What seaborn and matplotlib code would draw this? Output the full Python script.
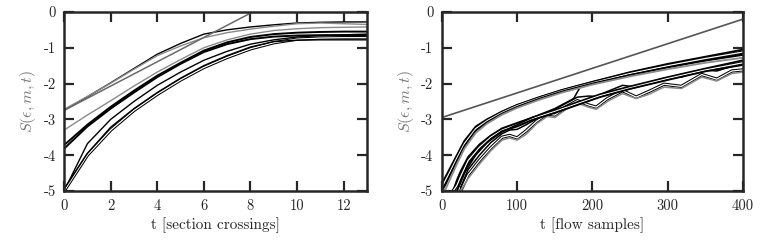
import numpy as np
import pandas as pd
import seaborn as sns
from matplotlib import pyplot as plt

# ---- left panel: section crossings ----
t_left = [0, 1, 2, 3, 4, 5, 6, 7, 8, 9, 10, 11, 12, 13]
left_curves = {
    'L1': [-2.75, -2.37, -1.98, -1.58, -1.18, -0.88, -0.62, -0.50, -0.42, -0.36, -0.31, -0.29, -0.28, -0.28],
    'L2': [-2.72, -2.36, -1.99, -1.60, -1.22, -0.95, -0.72, -0.58, -0.48, -0.40, -0.33, -0.31, -0.33, -0.35],
    'L3': [-3.30, -2.88, -2.48, -2.07, -1.68, -1.33, -1.00, -0.78, -0.62, -0.52, -0.47, -0.44, -0.43, -0.42],
    'L4': [-3.72, -3.15, -2.65, -2.20, -1.78, -1.42, -1.08, -0.85, -0.70, -0.62, -0.58, -0.56, -0.55, -0.55],
    'L5': [-3.82, -3.20, -2.70, -2.25, -1.82, -1.45, -1.12, -0.90, -0.76, -0.69, -0.66, -0.65, -0.65, -0.65],
    'L6': [-5.00, -3.68, -3.00, -2.50, -2.05, -1.68, -1.35, -1.10, -0.90, -0.78, -0.70, -0.66, -0.64, -0.62],
    'L7': [-5.00, -4.00, -3.30, -2.75, -2.30, -1.90, -1.55, -1.27, -1.03, -0.86, -0.76, -0.73, -0.72, -0.72],
    'L8': [-4.95, -3.95, -3.22, -2.70, -2.25, -1.85, -1.50, -1.22, -0.98, -0.83, -0.79, -0.78, -0.78, -0.78],
}
left_colors = {'L1': 'black', 'L2': '#8a8a8a', 'L3': '#8a8a8a', 'L4': 'black',
               'L5': 'black', 'L6': 'black', 'L7': 'white', 'L8': 'black'}
left_line_t = [0, 8.1]
left_line_s = [-2.75, 0.0]

# ---- right panel: flow samples ----
t_up = [0, 5, 10, 20, 30, 45, 60, 80, 100, 130, 160, 200, 250, 300, 350, 400]
up_curves = {
    'R1': [-4.80, -4.60, -4.40, -4.00, -3.60, -3.20, -3.00, -2.78, -2.60, -2.38, -2.18, -1.95, -1.68, -1.45, -1.25, -1.05],
    'R2': [-4.90, -4.70, -4.50, -4.08, -3.68, -3.26, -3.04, -2.81, -2.62, -2.40, -2.20, -1.98, -1.72, -1.50, -1.30, -1.12],
    'R3': [-5.00, -4.82, -4.60, -4.16, -3.75, -3.32, -3.08, -2.84, -2.65, -2.42, -2.22, -2.00, -1.76, -1.55, -1.36, -1.20],
    'R4': [-5.00, -4.95, -4.72, -4.25, -3.82, -3.38, -3.12, -2.87, -2.68, -2.45, -2.25, -2.03, -1.80, -1.60, -1.42, -1.28],
}
up_colors = {'R1': 'black', 'R2': 'white', 'R3': 'black', 'R4': '#8a8a8a'}

t_mid = [15, 20, 25, 35, 50, 65, 80, 100, 120, 150, 180, 210, 250, 300, 350, 400]
mid_curves = {
    'M1': [-5.00, -4.70, -4.45, -4.05, -3.70, -3.45, -3.25, -3.10, -2.95, -2.75, -2.52, -2.30, -2.08, -1.82, -1.58, -1.35],
    'M2': [-5.00, -4.85, -4.60, -4.15, -3.78, -3.50, -3.30, -3.15, -2.98, -2.78, -2.56, -2.34, -2.12, -1.86, -1.62, -1.42],
    'M3': [-5.00, -5.00, -4.75, -4.25, -3.85, -3.55, -3.33, -3.20, -3.02, -2.82, -2.60, -2.38, -2.15, -1.90, -1.66, -1.48],
}
mid_colors = {'M1': 'black', 'M2': 'white', 'M3': 'black'}

# one trajectory jumping up into the upper band
t_jump = [20, 30, 45, 60, 80, 100, 120, 150, 175, 185, 200, 250, 300, 350, 400]
s_jump = [-5.00, -4.50, -4.00, -3.65, -3.35, -3.15, -2.95, -2.70, -2.42, -2.05, -1.98, -1.74, -1.52, -1.35, -1.18]

t_wave = [25, 35, 50, 65, 80, 90, 100, 112, 126, 140, 150, 165, 180, 195, 205, 220, 240,
          258, 275, 295, 318, 345, 365, 385, 400]
wave_curves = {
    'W1': [-5.00, -4.55, -4.15, -3.80, -3.50, -3.45, -3.52, -3.32, -3.05, -2.85, -2.88, -2.65, -2.48, -2.60,
           -2.66, -2.42, -2.20, -2.38, -2.22, -2.02, -2.08, -1.75, -1.88, -1.65, -1.62],
    'W2': [-5.00, -4.65, -4.25, -3.88, -3.58, -3.52, -3.58, -3.42, -3.12, -2.92, -2.95, -2.72, -2.55, -2.66,
           -2.72, -2.50, -2.28, -2.42, -2.30, -2.10, -2.14, -1.82, -1.93, -1.72, -1.68],
    'W3': [-4.90, -4.40, -4.00, -3.65, -3.40, -3.30, -3.28, -3.15, -2.98, -2.80, -2.72, -2.55, -2.38, -2.35,
           -2.36, -2.22, -2.05, -2.10, -1.98, -1.85, -1.82, -1.62, -1.65, -1.52, -1.48],
}
wave_colors = {'W1': 'white', 'W2': '#8a8a8a', 'W3': 'black'}
right_line_t = [0, 400]
right_line_s = [-2.95, -0.2]

sns.set_style('ticks')
plt.rcParams['font.family'] = ['cmr10', 'DejaVu Serif']
plt.rcParams['mathtext.fontset'] = 'cm'
plt.rcParams['axes.unicode_minus'] = False
plt.rcParams['axes.formatter.use_mathtext'] = True
plt.rcParams['font.size'] = 10.5

fig = plt.figure(figsize=(7.63, 2.48), dpi=100)
ax1 = fig.add_axes([0.084, 0.23, 0.397, 0.722])
ax2 = fig.add_axes([0.579, 0.23, 0.395, 0.722])


def draw(ax, t, s, color, lw=1.1):
    if color == 'white':
        sns.lineplot(x=t, y=s, ax=ax, color='black', lw=2.4, sort=False, estimator=None)
        sns.lineplot(x=t, y=s, ax=ax, color='white', lw=0.9, sort=False, estimator=None)
    else:
        sns.lineplot(x=t, y=s, ax=ax, color=color, lw=lw, sort=False, estimator=None)


for k, s in left_curves.items():
    draw(ax1, t_left, s, left_colors[k], lw=1.4 if k in ('L4', 'L5') else 1.0)
draw(ax1, left_line_t, left_line_s, '#6a6a6a', lw=1.1)

for k, s in wave_curves.items():
    draw(ax2, t_wave, s, wave_colors[k])
for k, s in mid_curves.items():
    draw(ax2, t_mid, s, mid_colors[k], lw=1.3)
draw(ax2, t_jump, s_jump, 'black')
for k, s in up_curves.items():
    draw(ax2, t_up, s, up_colors[k], lw=1.3)
draw(ax2, right_line_t, right_line_s, '#555555', lw=1.2)

for ax, xmax, xticks, xlabel in [(ax1, 13, [0, 2, 4, 6, 8, 10, 12], 't [section crossings]'),
                                 (ax2, 400, [0, 100, 200, 300, 400], 't [flow samples]')]:
    ax.set_xlim(0, xmax)
    ax.set_ylim(-5, 0)
    ax.set_xticks(xticks)
    ax.set_yticks([-5, -4, -3, -2, -1, 0])
    ax.set_xticklabels([str(v) for v in xticks])
    ax.set_yticklabels([str(v) for v in [-5, -4, -3, -2, -1, 0]])
    ax.tick_params(direction='in', length=7, width=1.6, top=True, right=True, pad=6, labelsize=10.5)
    for sp in ax.spines.values():
        sp.set_linewidth(1.8)
        sp.set_visible(True)
    ax.set_xlabel(xlabel, fontsize=11, labelpad=3)
    ax.set_ylabel(r'$S(\epsilon, m, t)$', fontsize=11.5, color='#777777', labelpad=4)

fig.savefig('out.png', dpi=100)
